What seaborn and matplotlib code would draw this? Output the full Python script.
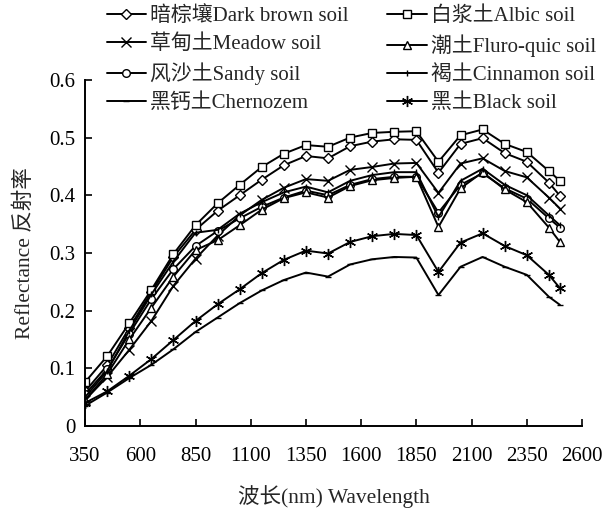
import pandas as pd
import numpy as np
import matplotlib
matplotlib.use("Agg")
import matplotlib.pyplot as plt
import seaborn as sns

# 波长 (nm)
wavelength = [350, 450, 550, 650, 750, 850, 950, 1050, 1150, 1250, 1350, 1450,
              1550, 1650, 1750, 1850, 1950, 2050, 2150, 2250, 2350, 2450, 2500]

dark_brown = [0.060, 0.105, 0.170, 0.232, 0.293, 0.340, 0.373, 0.400, 0.427, 0.452, 0.468, 0.464,
              0.485, 0.493, 0.497, 0.496, 0.439, 0.489, 0.499, 0.473, 0.458, 0.422, 0.399]
albic = [0.076, 0.121, 0.178, 0.236, 0.298, 0.348, 0.386, 0.418, 0.449, 0.472, 0.487, 0.484,
         0.500, 0.508, 0.510, 0.511, 0.458, 0.504, 0.514, 0.489, 0.475, 0.442, 0.425]
meadow = [0.045, 0.085, 0.132, 0.182, 0.243, 0.290, 0.330, 0.365, 0.392, 0.413, 0.428, 0.425,
          0.444, 0.449, 0.455, 0.456, 0.404, 0.455, 0.464, 0.442, 0.431, 0.396, 0.377]
fluro = [0.045, 0.090, 0.150, 0.205, 0.259, 0.305, 0.322, 0.348, 0.375, 0.395, 0.405, 0.396,
         0.416, 0.426, 0.430, 0.432, 0.345, 0.412, 0.440, 0.410, 0.388, 0.344, 0.319]
sandy = [0.055, 0.098, 0.160, 0.220, 0.272, 0.312, 0.338, 0.360, 0.380, 0.396, 0.408, 0.400,
         0.418, 0.428, 0.432, 0.432, 0.370, 0.418, 0.438, 0.412, 0.394, 0.360, 0.344]
cinnamon = [0.050, 0.095, 0.165, 0.228, 0.285, 0.335, 0.340, 0.368, 0.388, 0.405, 0.415, 0.405,
            0.425, 0.435, 0.440, 0.440, 0.362, 0.425, 0.446, 0.418, 0.400, 0.365, 0.348]
chernozem = [0.035, 0.058, 0.083, 0.106, 0.133, 0.163, 0.188, 0.213, 0.235, 0.253, 0.266, 0.259,
             0.280, 0.289, 0.293, 0.292, 0.227, 0.276, 0.293, 0.276, 0.262, 0.224, 0.210]
black = [0.040, 0.060, 0.087, 0.116, 0.149, 0.182, 0.211, 0.237, 0.265, 0.288, 0.304, 0.299,
         0.319, 0.329, 0.333, 0.331, 0.267, 0.318, 0.334, 0.312, 0.296, 0.262, 0.239]

# 图例顺序按列排列
soils = ["暗棕壤Dark brown soil", "草甸土Meadow soil", "风沙土Sandy soil", "黑钙土Chernozem",
         "白浆土Albic soil", "潮土Fluro-quic soil", "褐土Cinnamon soil", "黑土Black soil"]
values = [dark_brown, meadow, sandy, chernozem, albic, fluro, cinnamon, black]
marker_list = ["D", "x", "o", "_", "s", "^", "|", (6, 2, 0)]
marker_size = [5, 7, 5.5, 5, 5.5, 6, 5, 8]

x_ticks = [350, 600, 850, 1100, 1350, 1600, 1850, 2100, 2350, 2600]
y_ticks = [0, 0.1, 0.2, 0.3, 0.4, 0.5, 0.6]
y_ticklabels = ["0", "0.1", "0.2", "0.3", "0.4", "0.5", "0.6"]

sns.set_style("ticks")
plt.rcParams["font.family"] = ["Liberation Serif", "Noto Sans CJK SC"]
plt.rcParams["font.size"] = 15

fig = plt.figure(figsize=(6.12, 5.12), dpi=100)
ax = fig.add_axes([0.139, 0.168, 0.812, 0.676])

for soil, v, m, ms in zip(soils, values, marker_list, marker_size):
    sns.lineplot(x=wavelength, y=v, color="black", marker=m, markersize=ms,
                 markerfacecolor="white", markeredgecolor="black", markeredgewidth=1.0,
                 linewidth=1.4, label=soil, ax=ax)

ax.set_xlim(350, 2600)
ax.set_ylim(0, 0.6)
ax.set_xticks(x_ticks)
ax.set_yticks(y_ticks)
ax.set_yticklabels(y_ticklabels)
ax.tick_params(axis="both", direction="in", length=5, width=1.2, labelsize=15, colors="black")
ax.tick_params(axis="x", pad=15)
ax.tick_params(axis="y", pad=7)
for side in ["top", "right"]:
    ax.spines[side].set_visible(False)
for side in ["left", "bottom"]:
    ax.spines[side].set_linewidth(1.4)
    ax.spines[side].set_color("black")

ax.set_xlabel("波长(nm) Wavelength", fontsize=15.5, labelpad=14)
ax.set_ylabel("Reflectance 反射率", fontsize=15.5, labelpad=10)

ax.legend(loc="upper left", bbox_to_anchor=(0.157, 1.008), bbox_transform=fig.transFigure,
          ncol=2, frameon=False, fontsize=15, handlelength=1.9,
          handletextpad=0.2, columnspacing=1.85, labelspacing=0.4, borderpad=0)

fig.savefig("out.png", dpi=100)
